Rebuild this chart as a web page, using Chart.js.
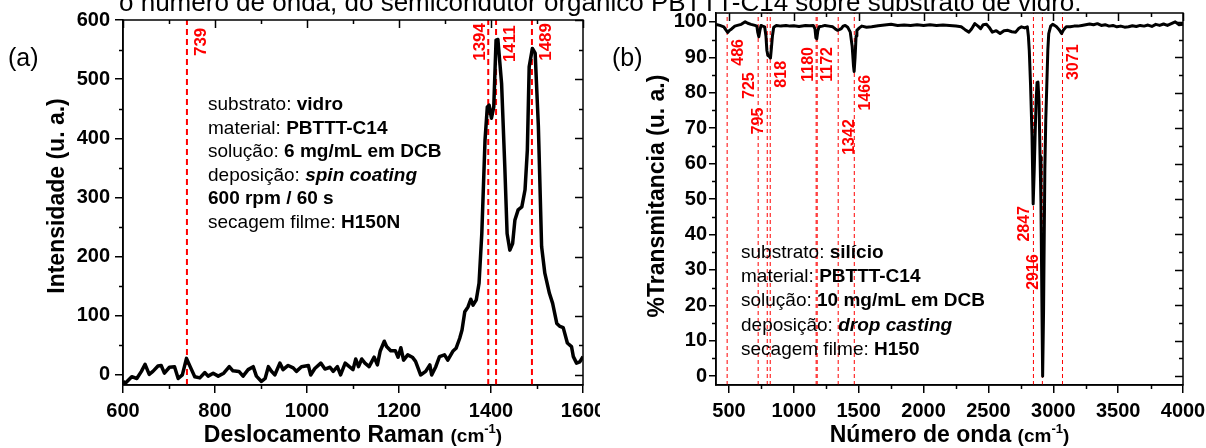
<!DOCTYPE html>
<html>
<head>
<meta charset="utf-8">
<script src="https://cdn.jsdelivr.net/npm/chart.js@4.4.0/dist/chart.umd.min.js"></script>
<style>
  html, body { margin: 0; padding: 0; background: #fff; }
  #wrap { position: relative; width: 1206px; height: 448px; overflow: hidden; }
  .panel { position: absolute; top: 0; height: 448px; }
  #caption {
    position: absolute; left: 119px; top: -13px; line-height: 29px;
    font: 26px "Liberation Sans", Arial, sans-serif; white-space: nowrap; color: #000;
  }
</style>
</head>
<body>
<div id="wrap">
  <div class="panel" style="left:0;width:600px"><canvas id="ramanChart"></canvas></div>
  <div class="panel" style="left:600px;width:606px"><canvas id="ftirChart"></canvas></div>
  <div id="caption">o número de onda, do semicondutor orgânico PBTTT-C14 sobre substrato de vidro.</div>
</div>
<script>
// (a) Raman spectrum
const ramanShift = [600, 605, 619, 630, 640, 648, 657, 665, 676, 683, 690, 701, 712, 720, 729, 738, 746, 756, 767, 778,
  785, 796, 807, 819, 831, 839, 852, 861, 872, 883, 890, 901, 909, 916, 923, 930, 941, 948, 959, 970,
  977, 988, 1003, 1008, 1017, 1030, 1039, 1050, 1057, 1066, 1073, 1083, 1092, 1100, 1106, 1112, 1119, 1126, 1135, 1146,
  1153, 1159, 1168, 1173, 1182, 1192, 1198, 1204, 1210, 1219, 1229, 1236, 1247, 1258, 1267, 1271, 1280, 1288, 1299, 1306,
  1317, 1324, 1332, 1337, 1343, 1350, 1356, 1361, 1368, 1374, 1380, 1387, 1392, 1396, 1401, 1406, 1411, 1415, 1423, 1430,
  1435, 1441, 1447, 1452, 1459, 1467, 1474, 1479, 1483, 1490, 1496, 1503, 1510, 1517, 1527, 1534, 1543, 1550, 1557, 1566,
  1575, 1579, 1586, 1593, 1600];
const ramanIntensity = [-11, -14, -3, -6, 6, 18, 1, 6, 15, 16, 3, 13, 14, -6, 0, 28, 14, -3, -5, 4,
  -2, 3, -2, 3, 14, 7, 6, -2, 9, 14, -2, -11, -6, 14, 6, 0, 20, 9, 16, 12,
  6, 14, 16, 0, 11, 20, 10, 13, 6, 14, 0, 20, 14, 9, 27, 14, 27, 20, 14, 30,
  17, 40, 57, 48, 41, 41, 30, 46, 25, 34, 30, 23, 0, 6, 17, 0, 14, 31, 34, 25,
  40, 45, 62, 76, 107, 115, 128, 118, 127, 155, 239, 397, 453, 456, 434, 453, 566, 567, 493, 352,
  239, 211, 222, 262, 279, 284, 313, 380, 521, 552, 544, 420, 217, 172, 138, 121, 87, 82, 80, 54,
  48, 31, 20, 22, 31];
const ramanPeaks = [739, 1394, 1411, 1489];
const ramanXTicks = [600, 800, 1000, 1200, 1400, 1600];
const ramanYTicks = [0, 100, 200, 300, 400, 500, 600];

// (b) FTIR spectrum
const ftirWavenumber = [400, 430, 460, 475, 490, 505, 520, 545, 565, 595, 625, 645, 670, 700, 715, 722, 730, 738, 747, 760,
  775, 785, 792, 800, 812, 820, 828, 835, 845, 865, 900, 940, 970, 1000, 1040, 1090, 1120, 1150, 1163, 1170,
  1177, 1185, 1195, 1220, 1240, 1270, 1300, 1320, 1336, 1350, 1366, 1380, 1396, 1415, 1435, 1450, 1460, 1465, 1472, 1480,
  1486, 1505, 1525, 1560, 1600, 1650, 1700, 1750, 1800, 1850, 1900, 1950, 2000, 2050, 2100, 2150, 2200, 2250, 2290, 2320,
  2350, 2370, 2395, 2420, 2440, 2460, 2485, 2505, 2530, 2560, 2590, 2620, 2650, 2680, 2710, 2735, 2755, 2780, 2800, 2808,
  2815, 2825, 2836, 2845, 2853, 2860, 2868, 2875, 2882, 2890, 2898, 2905, 2912, 2918, 2925, 2935, 2942, 2950, 2958, 2965,
  2980, 2995, 3010, 3025, 3045, 3064, 3080, 3100, 3130, 3160, 3190, 3220, 3250, 3280, 3310, 3340, 3370, 3400, 3430, 3460,
  3490, 3520, 3550, 3580, 3610, 3640, 3670, 3700, 3730, 3760, 3790, 3820, 3850, 3880, 3910, 3940, 3970, 4000];
const ftirTransmittance = [99.3, 99, 98.6, 97.8, 97, 97.6, 98, 98.8, 99, 99.3, 100, 99.6, 99.3, 99, 98.8, 97, 95.8, 97.5, 99, 98.8,
  98.6, 96, 92, 90.5, 90.2, 89.8, 93, 96, 98.5, 99, 98.8, 99, 98.8, 98.9, 98.7, 99, 98.9, 99, 98, 95.5,
  95.2, 97.5, 98.6, 98.8, 99, 98.8, 98.6, 98, 97.6, 97.8, 98.1, 98.8, 99, 98.5, 97.1, 93, 87.5, 86, 90, 96,
  97.6, 98.3, 98.8, 98.5, 98.6, 98.9, 99.1, 99.3, 99, 99.1, 99, 99.2, 99, 99.2, 99, 99.1, 99, 98.8, 98.6, 97.8,
  97.1, 98, 99.5, 98.8, 98.1, 99.2, 99.3, 98.5, 97.1, 97.5, 96.7, 97.5, 97.6, 97.2, 97.1, 98.2, 98.6, 98.3, 98.6, 96,
  91.9, 82, 68, 48.6, 58, 68, 78, 82.9, 83, 77.6, 62, 49, 22, 0, 18, 58.6, 72, 82, 92, 96.7,
  98.8, 99.3, 99, 98.6, 97.8, 96.7, 97.8, 98.6, 98.6, 98.8, 98.8, 99, 99.2, 99.4, 99.2, 99.5, 99, 99.2, 98.8, 99,
  98.6, 98.8, 98.5, 98.6, 98.9, 98.7, 99, 98.8, 99.1, 98.7, 99.3, 99, 99.4, 99, 99.5, 100, 99.2, 99.3];
const ftirPeaks = [486, 725, 795, 818, 1180, 1172, 1342, 1466, 2847, 2916, 3071];
const ftirXTicks = [500, 1000, 1500, 2000, 2500, 3000, 3500, 4000];
const ftirYTicks = [0, 10, 20, 30, 40, 50, 60, 70, 80, 90, 100];

// where each peak label sits: [value on y axis, side of the line]
const ramanLabelPlace = { 739: [563, 'r'], 1394: [563, 'l'], 1411: [560, 'r'], 1489: [563, 'r'] };
const ftirLabelPlace = { 486: [91.4, 'r'], 725: [82, 'l'], 795: [72, 'l'], 818: [85.2, 'r'], 1180: [88, 'l'], 1172: [88, 'r'],
  1342: [67.5, 'r'], 1466: [80, 'r'], 2847: [43, 'l'], 2916: [29.4, 'l'], 3071: [88.6, 'r'] };

const FAM = '"Liberation Sans", Arial, sans-serif';
const R = '19px ' + FAM, B = 'bold 19px ' + FAM, BI = 'italic bold 19px ' + FAM;

function drawRich(ctx, x, y, parts, center) {
  let w = 0;
  parts.forEach(p => { ctx.font = p[1]; w += ctx.measureText(p[0]).width; });
  let cx = center ? x - w / 2 : x;
  parts.forEach(p => {
    ctx.font = p[1];
    ctx.fillText(p[0], cx, y + (p[2] || 0));
    cx += ctx.measureText(p[0]).width;
  });
}

function makeDecor(cfg) {
  return {
    id: 'decor',
    afterDatasetsDraw(chart) {
      const { ctx, chartArea: a, scales: { x, y } } = chart;
      ctx.save();
      ctx.strokeStyle = '#000';
      ctx.lineWidth = 1.5;
      ctx.strokeRect(a.left, a.top, a.right - a.left, a.bottom - a.top);

      // minor ticks outside, mirrored ticks inside on top / right
      ctx.beginPath();
      for (let v = cfg.xStart; v <= x.max + 1e-6; v += cfg.xMinor) {
        const px = Math.round(x.getPixelForValue(v)) + 0.5;
        const major = cfg.xTicks.includes(v);
        if (!major) { ctx.moveTo(px, a.bottom); ctx.lineTo(px, a.bottom + 4); }
        ctx.moveTo(px, a.top); ctx.lineTo(px, a.top + (major ? 8 : 4));
      }
      for (let v = cfg.yStart; v <= y.max + 1e-6; v += cfg.yMinor) {
        const py = Math.round(y.getPixelForValue(v)) + 0.5;
        const major = cfg.yTicks.includes(v);
        if (!major) { ctx.moveTo(a.left, py); ctx.lineTo(a.left - 4, py); }
        ctx.moveTo(a.right, py); ctx.lineTo(a.right - (major ? 8 : 4), py);
      }
      ctx.stroke();

      // peak labels
      ctx.fillStyle = '#ff0000';
      ctx.font = cfg.peakFont;
      ctx.textAlign = 'center';
      ctx.textBaseline = 'middle';
      cfg.peaks.forEach(p => {
        const [yv, side] = cfg.place[p];
        const px = x.getPixelForValue(p) + (side === 'r' ? cfg.offR : cfg.offL);
        const py = y.getPixelForValue(yv);
        ctx.save();
        ctx.translate(px, py);
        ctx.rotate(-Math.PI / 2);
        ctx.fillText(String(p), 0, 0);
        ctx.restore();
      });

      // info box
      ctx.fillStyle = '#000';
      ctx.textAlign = 'left';
      ctx.textBaseline = 'alphabetic';
      cfg.info.forEach((line, i) => drawRich(ctx, cfg.infoX, cfg.infoY + i * cfg.infoStep, line, false));

      // axis titles
      const TB = 'bold 23px ' + FAM, TS = 'bold 19px ' + FAM, TU = 'bold 13px ' + FAM;
      drawRich(ctx, (a.left + a.right) / 2, 442,
        [[cfg.xTitle, TB], ['(cm', TS], ['-1', TU, -9], [')', TS]], true);
      ctx.save();
      ctx.translate(cfg.yTitleX, cfg.yTitleY);
      ctx.rotate(-Math.PI / 2);
      ctx.textBaseline = 'middle';
      drawRich(ctx, 0, 0, [[cfg.yTitle, TB]], true);
      ctx.restore();

      // panel letter
      ctx.font = '25px ' + FAM;
      ctx.fillText(cfg.letter, cfg.letterX, 66);
      ctx.restore();
    }
  };
}

function peakSets(peaks, yMin, yMax, width, dash) {
  return peaks.map(p => ({
    data: [{ x: p, y: yMin }, { x: p, y: yMax }],
    borderColor: '#ff0000', borderWidth: width, borderDash: dash,
    pointRadius: 0, order: 1
  }));
}

function axes(xMin, xMax, yMin, yMax, xTicks, yTicks, yWidth, yTickLen, yPad) {
  const tickFont = { family: FAM, size: 20, weight: 'bold' };
  const plain = v => String(v);
  return {
    x: {
      type: 'linear', min: xMin, max: xMax,
      afterBuildTicks: s => { s.ticks = xTicks.map(v => ({ value: v })); },
      afterFit: s => { s.height = 63; s.paddingLeft = 0; s.paddingRight = 0; },
      ticks: { font: tickFont, color: '#000', padding: 6, maxRotation: 0, autoSkip: false, callback: plain },
      grid: { drawOnChartArea: false, tickLength: 8, color: '#000', lineWidth: 1.5 },
      border: { color: '#000', width: 1.5 }
    },
    y: {
      min: yMin, max: yMax,
      afterBuildTicks: s => { s.ticks = yTicks.map(v => ({ value: v })); },
      afterFit: s => { s.width = yWidth; s.paddingTop = 0; s.paddingBottom = 0; },
      ticks: { font: tickFont, color: '#000', padding: yPad, autoSkip: false, callback: plain },
      grid: { drawOnChartArea: false, tickLength: yTickLen, color: '#000', lineWidth: 1.5 },
      border: { color: '#000', width: 1.5 }
    }
  };
}

const common = {
  responsive: true, maintainAspectRatio: false, animation: false,
  plugins: { legend: { display: false }, tooltip: { enabled: false } }
};

new Chart(document.getElementById('ramanChart'), {
  type: 'line',
  data: {
    datasets: [{
      data: ramanShift.map((x, i) => ({ x, y: ramanIntensity[i] })),
      borderColor: '#000', borderWidth: 3.5, pointRadius: 0, tension: 0,
      borderJoinStyle: 'round', order: 0
    }].concat(peakSets(ramanPeaks, -17, 600, 2, [6, 4]))
  },
  options: Object.assign({}, common, {
    layout: { padding: { top: 20, right: 17, left: 0, bottom: 0 } },
    scales: axes(600, 1600, -17, 600, ramanXTicks, ramanYTicks, 123, 8, 5)
  }),
  plugins: [makeDecor({
    xStart: 600, xMinor: 100, xTicks: ramanXTicks,
    yStart: 0, yMinor: 50, yTicks: ramanYTicks,
    peaks: ramanPeaks, place: ramanLabelPlace, offL: -8, offR: 14, peakFont: 'bold 17px ' + FAM,
    infoX: 208, infoY: 110, infoStep: 23.6,
    info: [
      [['substrato: ', R], ['vidro', B]],
      [['material: ', R], ['PBTTT-C14', B]],
      [['solução: ', R], ['6 mg/mL em DCB', B]],
      [['deposição: ', R], ['spin coating', BI]],
      [['600 rpm / 60 s', B]],
      [['secagem filme: ', R], ['H150N', B]]
    ],
    xTitle: 'Deslocamento Raman ', yTitle: 'Intensidade (u. a.)', yTitleX: 58, yTitleY: 196,
    letter: '(a)', letterX: 8
  })]
});

new Chart(document.getElementById('ftirChart'), {
  type: 'line',
  data: {
    datasets: [{
      data: ftirWavenumber.map((x, i) => ({ x, y: ftirTransmittance[i] })),
      borderColor: '#000', borderWidth: 3, pointRadius: 0, tension: 0,
      borderJoinStyle: 'round', order: 0
    }].concat(peakSets(ftirPeaks, -2.5, 102.5, 1, [4, 3]))
  },
  options: Object.assign({}, common, {
    layout: { padding: { top: 13, right: 23, left: 0, bottom: 0 } },
    scales: axes(400, 4000, -2.5, 102.5, ftirXTicks, ftirYTicks, 116, 7, 2)
  }),
  plugins: [makeDecor({
    xStart: 500, xMinor: 250, xTicks: ftirXTicks,
    yStart: 0, yMinor: 5, yTicks: ftirYTicks,
    peaks: ftirPeaks, place: ftirLabelPlace, offL: -9, offR: 11, peakFont: 'bold 16px ' + FAM,
    infoX: 141, infoY: 258, infoStep: 24.2,
    info: [
      [['substrato: ', R], ['silício', B]],
      [['material: ', R], ['PBTTT-C14', B]],
      [['solução: ', R], ['10 mg/mL em DCB', B]],
      [['deposição: ', R], ['drop casting', BI]],
      [['secagem filme: ', R], ['H150', B]]
    ],
    xTitle: 'Número de onda ', yTitle: '%Transmitancia (u. a.)', yTitleX: 58, yTitleY: 196,
    letter: '(b)', letterX: 12
  })]
});
</script>
</body>
</html>
